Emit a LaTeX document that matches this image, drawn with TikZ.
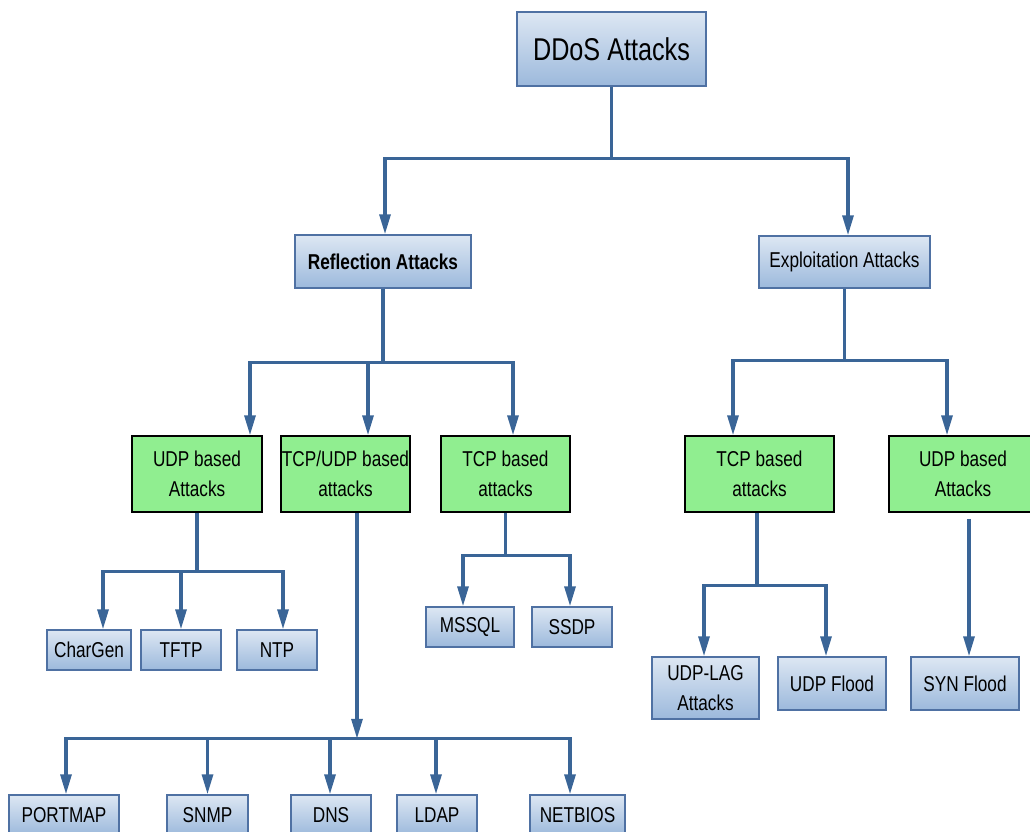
\documentclass[tikz,border=0pt]{standalone}
\usepackage{fontspec}
\setmainfont[FakeStretch=0.8]{Liberation Sans}
\usetikzlibrary{arrows.meta}
\definecolor{lnc}{RGB}{58,101,151}
\definecolor{bdc}{RGB}{79,113,163}
\definecolor{topc}{RGB}{221,231,243}
\definecolor{botc}{RGB}{156,185,220}
\definecolor{grn}{RGB}{144,238,144}
\tikzset{
  bluebox/.style={draw=bdc, line width=1.5pt, top color=topc, bottom color=botc,
    inner sep=0pt, align=center, font=\fontsize{21.5}{30}\selectfont},
  greenbox/.style={draw=black, line width=1.5pt, fill=grn, inner sep=0pt,
    align=center, font=\fontsize{21.5}{30}\selectfont},
  conn/.style={draw=lnc, line width=3.2pt},
  arr/.style={conn, -{Triangle[length=20pt,width=11pt]}},
}
\begin{document}
\begin{tikzpicture}[x=1pt,y=-1pt]
\useasboundingbox (0,0) rectangle (1030,832);
% level 0-1
\node[bluebox, minimum width=189, minimum height=74, font=\fontsize{31.5}{36}\selectfont] (ddos) at (611.5,49) {DDoS Attacks};
\node[bluebox, minimum width=176, minimum height=53, font=\fontsize{21.5}{30}\selectfont\bfseries] (refl) at (383,261.5) {Reflection Attacks};
\node[bluebox, minimum width=171, minimum height=52] (expl) at (844.5,262) {Exploitation Attacks};
% level 2
\node[greenbox, minimum width=130, minimum height=76] (udpL) at (197,474) {UDP based\\Attacks};
\node[greenbox, minimum width=129, minimum height=76] (tcpudp) at (345.5,474) {TCP/UDP based\\attacks};
\node[greenbox, minimum width=129, minimum height=76] (tcpL) at (505.5,474) {TCP based\\attacks};
\node[greenbox, minimum width=149, minimum height=76] (tcpR) at (759.5,474) {TCP based\\attacks};
\node[greenbox, minimum width=148, minimum height=76] (udpR) at (963,474) {UDP based\\Attacks};
% leaves
\node[bluebox, minimum width=84, minimum height=40] (chargen) at (89,650) {CharGen};
\node[bluebox, minimum width=80, minimum height=40] (tftp) at (181,650) {TFTP};
\node[bluebox, minimum width=80, minimum height=40] (ntp) at (277,650) {NTP};
\node[bluebox, minimum width=88, minimum height=40] (mssql) at (470,627) {MSSQL};
\node[bluebox, minimum width=80, minimum height=40] (ssdp) at (572,627) {SSDP};
\node[bluebox, minimum width=107, minimum height=62] (udplag) at (705.5,688) {UDP-LAG\\Attacks};
\node[bluebox, minimum width=108, minimum height=53] (udpflood) at (832,683.5) {UDP Flood};
\node[bluebox, minimum width=108, minimum height=53] (synflood) at (965,683.5) {SYN Flood};
\node[bluebox, minimum width=110, minimum height=40] (portmap) at (64,815) {PORTMAP};
\node[bluebox, minimum width=81, minimum height=40] (snmp) at (207.5,815) {SNMP};
\node[bluebox, minimum width=80, minimum height=40] (dns) at (331,815) {DNS};
\node[bluebox, minimum width=80, minimum height=40] (ldap) at (437,815) {LDAP};
\node[bluebox, minimum width=95, minimum height=40] (netbios) at (577.5,815) {NETBIOS};
% connectors
\draw[arr] (ddos.south) -- ++(0,72) -| ([xshift=2]refl.north);
\draw[arr] (ddos.south) -- ++(0,72) -| ([xshift=3.5]expl.north);
\draw[arr] (refl.south) -- ++(0,74) -| ([xshift=53]udpL.north);
\draw[arr] (refl.south) -- ++(0,74) -| ([xshift=22.5]tcpudp.north);
\draw[arr] (refl.south) -- ++(0,74) -| ([xshift=7.5]tcpL.north);
\draw[arr] (expl.south) -- ++(0,72) -| ([xshift=-26.5]tcpR.north);
\draw[arr] (expl.south) -- ++(0,72) -| ([xshift=-16]udpR.north);
\draw[arr] (udpL.south) -- ++(0,59) -| ([xshift=14]chargen.north);
\draw[arr] (udpL.south) -- ++(0,59) -| (tftp.north);
\draw[arr] (udpL.south) -- ++(0,59) -| ([xshift=6]ntp.north);
\draw[arr] (tcpL.south) -- ++(0,43) -| ([xshift=-7]mssql.north);
\draw[arr] (tcpL.south) -- ++(0,43) -| ([xshift=-2]ssdp.north);
\draw[arr] ([xshift=-2.5]tcpR.south) -- ++(0,73) -| ([xshift=-1.5]udplag.north);
\draw[arr] ([xshift=-2.5]tcpR.south) -- ++(0,73) -| ([xshift=-6]udpflood.north);
\coordinate (ustart) at ([xshift=6,yshift=-6]udpR.south);
\draw[arr] (ustart) -- (ustart |- synflood.north);
\draw[arr] ([xshift=11.5]tcpudp.south) -- ++(0,226) coordinate (hub);
\draw[arr] (hub) -| ([xshift=2]portmap.north);
\draw[arr] (hub) -| (snmp.north);
\draw[arr] (hub) -| ([xshift=-1]dns.north);
\draw[arr] (hub) -| ([xshift=-1]ldap.north);
\draw[arr] (hub) -| ([xshift=-7.5]netbios.north);
\end{tikzpicture}
\end{document}
